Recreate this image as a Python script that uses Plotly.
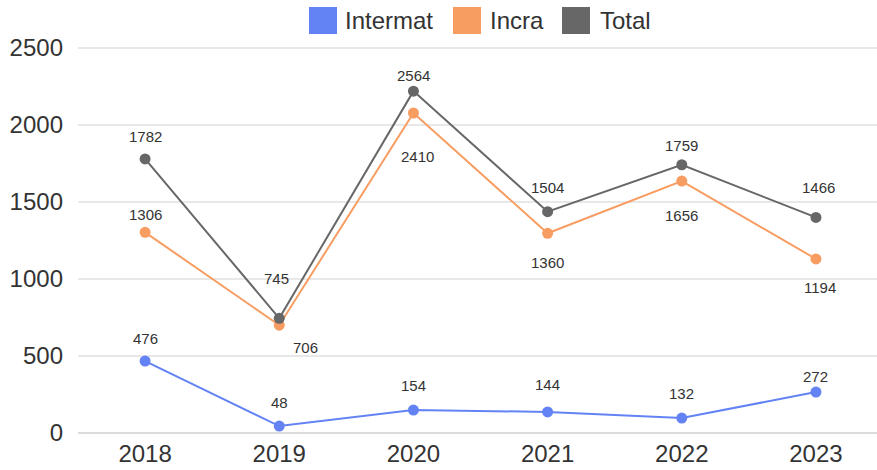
import plotly.graph_objects as go

years = ["2018", "2019", "2020", "2021", "2022", "2023"]

# plotted point values (as drawn in the reference)
intermat = [467, 45, 149, 137, 97, 266]
incra = [1303, 700, 2078, 1297, 1636, 1130]
total = [1780, 745, 2220, 1437, 1742, 1400]

# printed data labels
intermat_lbl = ["476", "48", "154", "144", "132", "272"]
incra_lbl = ["1306", "706", "2410", "1360", "1656", "1194"]
total_lbl = ["1782", "745", "2564", "1504", "1759", "1466"]

series_names = ["Intermat", "Incra", "Total"]
colors = ["#6383F5", "#F89D62", "#676767"]

# label offsets (pixels) - style only
intermat_dy = [23, 24, 25, 27, 25, 16]
incra_dy = [18, -22, -44, -29, -34, -29]
total_dy = [22, 40, 16, 24, 19, 30]
incra_dx = [0, 26, 4, 0, 0, 4]
total_dx = [0, -3, 0, 0, 0, 3]
intermat_dx = [0, 0, 0, 0, 0, 0]

FONT = "Arial, Liberation Sans, Helvetica, sans-serif"
W, H = 877, 470
ML, MR, MT, MB = 78, 0, 40, 37

fig = go.Figure()
for name, vals, col in zip(series_names, [intermat, incra, total], colors):
    fig.add_trace(go.Scatter(
        x=years, y=vals, mode="lines+markers", name=name,
        line=dict(color=col, width=2),
        marker=dict(color=col, size=11),
        cliponaxis=False, showlegend=False, hoverinfo="skip"))

ann = []
for vals, lbls, dys, dxs in [(intermat, intermat_lbl, intermat_dy, intermat_dx),
                             (incra, incra_lbl, incra_dy, incra_dx),
                             (total, total_lbl, total_dy, total_dx)]:
    for i, (v, t, dy, dx) in enumerate(zip(vals, lbls, dys, dxs)):
        ann.append(dict(x=i, y=v, text=t, showarrow=False, xref="x", yref="y",
                        xanchor="center", yanchor="middle",
                        xshift=dx, yshift=dy,
                        font=dict(family=FONT, size=15, color="#333333")))

# manual legend with large square swatches
pw = W - ML - MR
ph = H - MT - MB

def px2x(px):
    return (px - ML) / pw

def py2y(py):
    return (H - MB - py) / ph

shapes = []
legend_boxes = [(309, 7), (453, 7), (562, 7)]
legend_text_x = [343, 488, 598]
for (bx, by), tx, name, col in zip(legend_boxes, legend_text_x, series_names, colors):
    shapes.append(dict(type="rect", xref="paper", yref="paper",
                       x0=px2x(bx), x1=px2x(bx + 28), y0=py2y(by + 27), y1=py2y(by),
                       fillcolor=col, line=dict(width=0), layer="above"))
    ann.append(dict(x=px2x(tx), y=py2y(21), xref="paper", yref="paper",
                    text=name, showarrow=False, xanchor="left", yanchor="middle",
                    font=dict(family=FONT, size=24, color="#333333")))

fig.update_layout(
    width=W, height=H, autosize=False,
    margin=dict(l=ML, r=MR, t=MT, b=MB, pad=0),
    paper_bgcolor="white", plot_bgcolor="white",
    showlegend=False,
    annotations=ann, shapes=shapes,
    font=dict(family=FONT, color="#333333"),
)
fig.update_xaxes(type="category", range=[-0.5, 5.455], showgrid=False,
                 showline=False, zeroline=False, ticks="",
                 tickfont=dict(family=FONT, size=24, color="#333333"),
                 ticklabelstandoff=4)
fig.update_yaxes(range=[0, 2552], tickvals=[0, 500, 1000, 1500, 2000, 2500],
                 showgrid=True, gridcolor="#E8E8E8", gridwidth=2,
                 zeroline=True, zerolinecolor="#DCDCDC", zerolinewidth=2,
                 showline=False, ticks="",
                 tickfont=dict(family=FONT, size=24, color="#333333"),
                 ticklabelstandoff=14)

fig.write_html("out.html")
